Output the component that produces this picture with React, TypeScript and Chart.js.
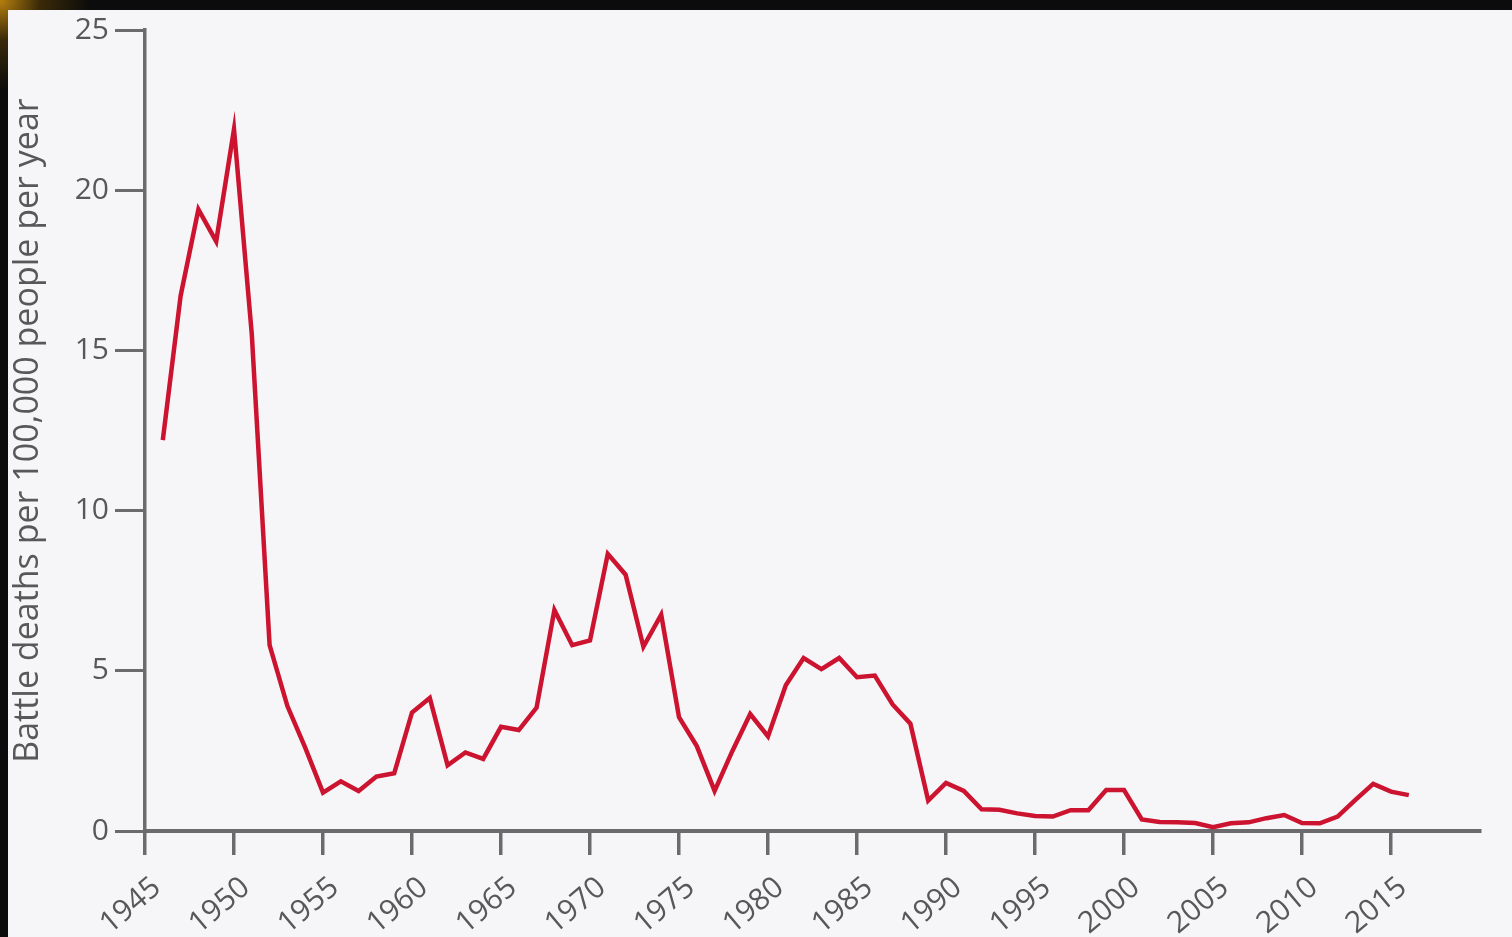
import React, { useEffect, useRef } from "react";
import { Chart, registerables } from "chart.js";

Chart.register(...registerables);

const YEARS = [
  1946, 1947, 1948, 1949, 1950, 1951, 1952, 1953, 1954, 1955,
  1956, 1957, 1958, 1959, 1960, 1961, 1962, 1963, 1964, 1965,
  1966, 1967, 1968, 1969, 1970, 1971, 1972, 1973, 1974, 1975,
  1976, 1977, 1978, 1979, 1980, 1981, 1982, 1983, 1984, 1985,
  1986, 1987, 1988, 1989, 1990, 1991, 1992, 1993, 1994, 1995,
  1996, 1997, 1998, 1999, 2000, 2001, 2002, 2003, 2004, 2005,
  2006, 2007, 2008, 2009, 2010, 2011, 2012, 2013, 2014, 2015,
  2016,
];

const DEATHS = [
  12.2, 16.7, 19.4, 18.4, 21.9, 15.5, 5.8, 3.9, 2.6, 1.2,
  1.55, 1.25, 1.7, 1.8, 3.7, 4.15, 2.05, 2.45, 2.25, 3.25,
  3.15, 3.85, 6.9, 5.8, 5.95, 8.65, 8.0, 5.75, 6.75, 3.55,
  2.65, 1.25, 2.5, 3.65, 2.95, 4.55, 5.4, 5.05, 5.4, 4.8,
  4.85, 3.95, 3.35, 0.95, 1.5, 1.25, 0.68, 0.66, 0.55, 0.47,
  0.45, 0.65, 0.65, 1.28, 1.28, 0.36, 0.28, 0.27, 0.25, 0.12,
  0.24, 0.27, 0.4, 0.5, 0.25, 0.24, 0.45, 0.97, 1.47, 1.23,
  1.12,
];

const X_TICKS = [1945, 1950, 1955, 1960, 1965, 1970, 1975, 1980, 1985, 1990, 1995, 2000, 2005, 2010, 2015];
const Y_TICKS = [0, 5, 10, 15, 20, 25];
const Y_TITLE = "Battle deaths per 100,000 people per year";

const AXIS = "#6b6b6d";
const TEXT = "#58585a";
const FONT = "'Open Sans', 'DejaVu Sans', sans-serif";

export default function App() {
  const ref = useRef<HTMLCanvasElement | null>(null);

  useEffect(() => {
    document.body.style.margin = "0";
    document.body.style.background =
      "radial-gradient(circle at 0 0, #b7800f 0px, #3a2a08 40px, #0c0c0c 90px)";
    document.body.style.minHeight = "937px";
    const canvas = ref.current;
    if (!canvas) return;
    const chart = new Chart(canvas, {
      type: "line",
      data: {
        datasets: [
          {
            data: YEARS.map((y, i) => ({ x: y, y: DEATHS[i] })),
            borderColor: "#cc1330",
            borderWidth: 4.5,
            pointRadius: 0,
            tension: 0,
            fill: false,
            borderJoinStyle: "miter",
          },
        ],
      },
      options: {
        animation: false,
        responsive: true,
        maintainAspectRatio: false,
        layout: { padding: { top: 20, right: 32, left: 0, bottom: 0 } },
        plugins: { legend: { display: false }, tooltip: { enabled: false } },
        scales: {
          x: {
            type: "linear",
            min: 1945,
            max: 2020,
            afterBuildTicks: (scale: any) => {
              scale.ticks = X_TICKS.map((v) => ({ value: v }));
            },
            afterFit: (scale: any) => {
              scale.height = 106;
              scale.paddingRight = 0;
            },
            grid: {
              drawOnChartArea: false,
              drawTicks: true,
              tickLength: 24,
              color: AXIS,
              lineWidth: 3.5,
            },
            border: { display: true, color: AXIS, width: 4 },
            ticks: {
              autoSkip: false,
              maxRotation: 40,
              minRotation: 40,
              padding: 15,
              labelOffset: 12,
              color: TEXT,
              font: { family: FONT, size: 30 },
              callback: (v: any) => String(v),
            },
          },
          y: {
            type: "linear",
            min: 0,
            max: 25,
            afterBuildTicks: (scale: any) => {
              scale.ticks = Y_TICKS.map((v) => ({ value: v }));
            },
            afterFit: (scale: any) => {
              scale.width = 137;
              scale.paddingTop = 0;
              scale.paddingBottom = 0;
            },
            grid: {
              drawOnChartArea: false,
              drawTicks: true,
              tickLength: 30,
              color: AXIS,
              lineWidth: 3,
            },
            border: { display: true, color: AXIS, width: 3.5 },
            ticks: {
              padding: 6,
              color: TEXT,
              font: { family: FONT, size: 30 },
              callback: (v: any) => String(v),
            },
            title: {
              display: true,
              text: Y_TITLE,
              color: TEXT,
              font: { family: FONT, size: 34 },
              padding: { top: 0, bottom: 0 },
            },
          },
        },
      },
    });
    return () => chart.destroy();
  }, []);

  return (
    <div
      style={{
        position: "absolute",
        left: 8,
        top: 10,
        width: 1504,
        height: 927,
        background: "#f6f5f8",
      }}
    >
      <canvas ref={ref} style={{ display: "block" }} />
    </div>
  );
}
